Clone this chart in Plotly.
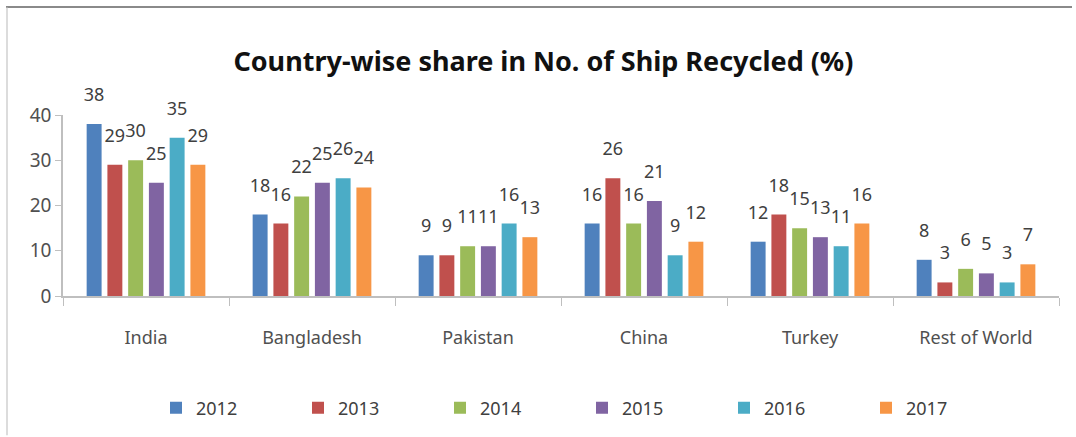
import plotly.graph_objects as go

categories = ["India", "Bangladesh", "Pakistan", "China", "Turkey", "Rest of World"]
years = ["2012", "2013", "2014", "2015", "2016", "2017"]
v2012 = [38, 18, 9, 16, 12, 8]
v2013 = [29, 16, 9, 26, 18, 3]
v2014 = [30, 22, 11, 16, 15, 6]
v2015 = [25, 25, 11, 21, 13, 5]
v2016 = [35, 26, 16, 9, 11, 3]
v2017 = [29, 24, 13, 12, 16, 7]
series = [v2012, v2013, v2014, v2015, v2016, v2017]
colors = ["#4F81BD", "#C0504D", "#9BBB59", "#8064A2", "#4BACC6", "#F79646"]

W, H = 1076, 437
L, R, T, B = 63, 17, 115, 140
FONT = "Noto Sans"
GAP = 0.25

fig = go.Figure()
for name, vals, col in zip(years, series, colors):
    fig.add_trace(go.Bar(
        x=categories, y=vals, name=name, offsetgroup=name,
        marker=dict(color=col, line=dict(width=0)),
    ))
for name, vals in zip(years, series):
    fig.add_trace(go.Scatter(
        x=categories, y=vals, mode="markers+text", showlegend=False,
        offsetgroup=name, text=[str(v) for v in vals],
        textposition="top center",
        marker=dict(size=28, opacity=0),
        textfont=dict(family=FONT, size=18, color="#404040"),
        cliponaxis=False, hoverinfo="skip",
    ))

pw = W - L - R
ph = H - T - B

def px_x(p):
    return (p - L) / pw

def px_y(p):
    return (H - B - p) / ph

fig.update_layout(
    width=W, height=H,
    margin=dict(l=L, r=R, t=T, b=B),
    paper_bgcolor="white", plot_bgcolor="white",
    barmode="group", bargap=GAP, bargroupgap=0.28,
    scattermode="group", scattergap=GAP,
    title=dict(text="<b>Country-wise share in No. of Ship Recycled (%)</b>",
               font=dict(family=FONT, size=27, color="#111111"),
               x=0.505, xanchor="center", y=1 - 62 / H, yanchor="middle"),
    showlegend=True,
    legend=dict(orientation="h", x=px_x(156), xanchor="left",
                y=px_y(408), yanchor="middle",
                font=dict(family=FONT, size=18, color="#404040"),
                entrywidth=97, entrywidthmode="pixels",
                bgcolor="rgba(0,0,0,0)", traceorder="normal"),
    shapes=[
        dict(type="line", xref="paper", yref="paper",
             x0=px_x(6), x1=px_x(1072), y0=px_y(6.5), y1=px_y(6.5),
             line=dict(color="#8a8a8a", width=2)),
        dict(type="line", xref="paper", yref="paper",
             x0=px_x(7), x1=px_x(7), y0=px_y(7), y1=px_y(437),
             line=dict(color="#d0d0d0", width=1.5)),
    ],
)

fig.update_xaxes(
    showline=True, linecolor="#BFBFBF", linewidth=1.5,
    ticks="outside", tickson="boundaries", ticklen=8, tickcolor="#BFBFBF",
    tickfont=dict(family=FONT, size=18, color="#505050"),
    ticklabelstandoff=25,
    showgrid=False, zeroline=False,
)
fig.update_yaxes(
    range=[0, 40], tickvals=[0, 10, 20, 30, 40],
    showline=True, linecolor="#BFBFBF", linewidth=1.5,
    ticks="outside", ticklen=6, tickcolor="#BFBFBF",
    tickfont=dict(family=FONT, size=19, color="#505050"),
    showgrid=False, zeroline=False,
)

fig.write_html("out.html")
